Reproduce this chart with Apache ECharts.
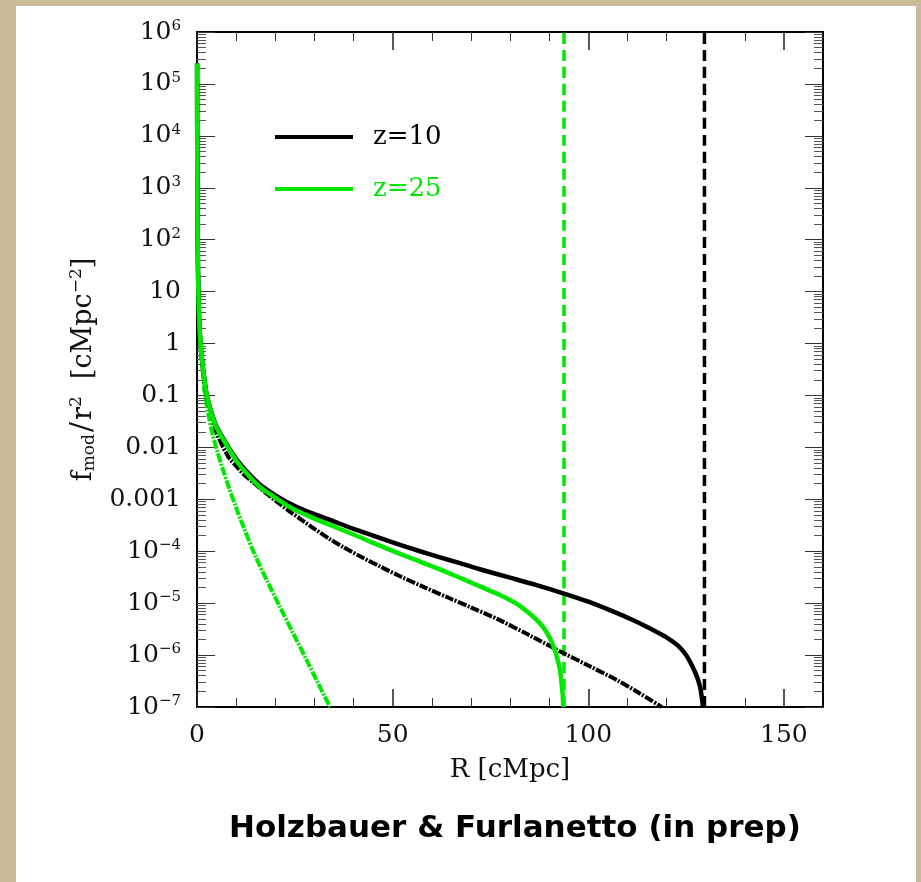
<!DOCTYPE html>
<html><head><meta charset="utf-8">
<script src="https://cdn.jsdelivr.net/npm/echarts@6/dist/echarts.min.js"></script>
<style>html,body{margin:0;padding:0;background:#c8bc98;}#c{width:921px;height:882px;}</style>
</head><body><div id="c"></div>
<script>
// ---- data ----
const rZ10  = [0.02,0.05,0.1,0.2,0.35,0.55,0.9,1.5,2.5,3.76,5,8,10,12.3,16,20.8,25,29.3,34,40,45,51.9,57,63,67.2,72.3,80,87,93.6,100,106,111.5,116,120,123,125,126.5,127.8,128.6,129.1,129.3];
const fZ10  = [2.5e5,1e4,1e3,60,10,3,1,0.35,0.1,0.045,0.025,0.0102,6.0e-3,3.7e-3,1.95e-3,1.1e-3,7.4e-4,5.4e-4,4e-4,2.7e-4,2.0e-4,1.32e-4,1.0e-4,7.3e-5,5.9e-5,4.5e-5,3.1e-5,2.2e-5,1.55e-5,1.07e-5,7.1e-6,4.7e-6,3.2e-6,2.2e-6,1.5e-6,1e-6,6.3e-7,3.8e-7,2.4e-7,1.4e-7,1e-7];
const rZ25  = [0.02,0.05,0.1,0.2,0.35,0.55,0.9,1.5,2.5,3.76,5,8,10,12.3,16,20.8,25,29.3,34,40,45,51.9,57,63,68,72.3,77,80,82.5,85,87,88.8,90.2,91.3,92.1,92.8,93.2,93.5,93.6];
const fZ25  = [2.5e5,1e4,1e3,60,10,3,1,0.35,0.1,0.044,0.024,0.0098,5.6e-3,3.4e-3,1.74e-3,9.8e-4,6.3e-4,4.5e-4,3.2e-4,2.1e-4,1.45e-4,8.9e-5,6.3e-5,4.2e-5,2.9e-5,2.1e-5,1.48e-5,1.15e-5,8.9e-6,6.3e-6,4.6e-6,3.2e-6,2.1e-6,1.35e-6,8.5e-7,5e-7,2.8e-7,1.6e-7,1e-7];
const rZ10b = [0.02,0.05,0.1,0.2,0.35,0.55,0.9,1.5,2.5,3.76,5,8,10,12,14.4,16.5,20,23.8,27,30,34,37.4,42.5,47,51.9,58,64.7,70,77.4,85,93.6,100,107.3,113,118.8];
const fZ10b = [2.5e5,1e4,1e3,60,10,3,1,0.35,0.1,0.042,0.019,6.6e-3,4.4e-3,3.0e-3,2.1e-3,1.55e-3,9.5e-4,5.75e-4,3.9e-4,2.7e-4,1.7e-4,1.2e-4,7.4e-5,5.0e-5,3.3e-5,2.04e-5,1.23e-5,8.3e-6,4.7e-6,2.4e-6,1.1e-6,6.3e-7,3.3e-7,1.86e-7,1e-7];
const rZ25b = [0.02,0.05,0.1,0.2,0.35,0.55,0.9,1.3,2,3,4,5,6.5,8,10,12,14.8,18,21,24.6,28,31,34];
const fZ25b = [2.5e5,1e4,1e3,60,10,3,1,0.4,0.112,0.04,0.0178,9.3e-3,4e-3,1.82e-3,6.9e-4,2.8e-4,8.5e-5,2.6e-5,9.1e-6,2.6e-6,8.1e-7,2.8e-7,1e-7];
const cutoffR = [129.7, 93.8];           // dashed vertical lines: z=10, z=25
const seriesNames = ['z=10', 'z=25'];
const xTickValues = [0, 50, 100, 150];
const xTickLabels = ['0', '50', '100', '150'];
const xMinorValues = [10,20,30,40,60,70,80,90,110,120,130,140];
const yTickValues = [1e-7,1e-6,1e-5,1e-4,1e-3,1e-2,0.1,1,10,1e2,1e3,1e4,1e5,1e6];
const yTickLabels = ['10^−7','10^−6','10^−5','10^−4','0.001','0.01','0.1','1','10','10^2','10^3','10^4','10^5','10^6'];
const xRange = [0, 160];

// ---- build ----
const GREEN = '#00e800';
const SERIF = 'DejaVu Serif';
const yMin = yTickValues[0], yMax = yTickValues[yTickValues.length - 1];
const yMinorValues = [];
for (let i = 0; i < yTickValues.length - 1; i++) {
  for (let m = 2; m <= 9; m++) yMinorValues.push(m * yTickValues[i]);
}
const zip = (a, b) => a.map((v, i) => [v, b[i]]);

function yLabel(v) {
  const lv = Math.log10(v);
  const i = yTickValues.findIndex(t => Math.abs(Math.log10(t) - lv) < 1e-6);
  if (i < 0) return '';
  const s = yTickLabels[i];
  if (s.indexOf('^') >= 0) {
    const p = s.split('^');
    return '{b|' + p[0] + '}{sup|' + p[1] + '}';
  }
  return '{b|' + s + '}';
}
const labelRich = {
  b: { fontFamily: SERIF, fontSize: 25, color: '#111', lineHeight: 27 },
  sup: { fontFamily: SERIF, fontSize: 15, color: '#111', verticalAlign: 'top', lineHeight: 16 }
};

function xAx(pos, major, labels) {
  return {
    type: 'value', position: pos, min: xRange[0], max: xRange[1],
    splitLine: { show: false },
    axisLine: { show: major, onZero: false, lineStyle: { color: '#000', width: 2 } },
    axisTick: { show: true, inside: true, length: major ? 18 : 9,
      customValues: major ? xTickValues : xMinorValues,
      lineStyle: { color: major ? '#222' : '#333', width: major ? 1.5 : 1 } },
    axisLabel: labels ? { show: true, customValues: xTickValues, margin: 16,
      formatter: v => xTickLabels[xTickValues.indexOf(v)] ?? '',
      fontFamily: SERIF, fontSize: 25, color: '#111' } : { show: false }
  };
}
function yAx(pos, major, labels) {
  return {
    type: 'log', logBase: 10, position: pos, min: yMin, max: yMax,
    splitLine: { show: false }, minorTick: { show: false },
    axisLine: { show: major, onZero: false, lineStyle: { color: '#000', width: 2 } },
    axisTick: { show: true, inside: true, length: major ? 18 : 9,
      customValues: major ? yTickValues : yMinorValues,
      lineStyle: { color: major ? '#333' : '#555', width: 1 } },
    axisLabel: labels ? { show: true, customValues: yTickValues, margin: 16,
      formatter: yLabel, rich: labelRich } : { show: false }
  };
}

const xAxes = [xAx('bottom', true, true), xAx('bottom', false, false), xAx('top', true, false), xAx('top', false, false)];
Object.assign(xAxes[0], {
  name: 'R [cMpc]', nameLocation: 'middle', nameGap: 50,
  nameTextStyle: { fontFamily: SERIF, fontSize: 26, color: '#111' }
});
const yAxes = [yAx('left', true, true), yAx('left', false, false), yAx('right', true, false), yAx('right', false, false)];
Object.assign(yAxes[0], {
  name: '{b|f}{sub|mod}{sl|/}{b|r}{sup|2}{b|  [cMpc}{sup|−2}{b|]}', nameLocation: 'middle', nameGap: 89,
  nameTextStyle: { fontFamily: SERIF, fontSize: 27, color: '#111',
    rich: {
      b: { fontFamily: SERIF, fontSize: 27, color: '#111', lineHeight: 30 },
      sl: { fontFamily: SERIF, fontSize: 30, color: '#111', lineHeight: 30, padding: [0, 2, 0, 2] },
      sub: { fontFamily: SERIF, fontSize: 17, color: '#111', verticalAlign: 'bottom', lineHeight: 16 },
      sup: { fontFamily: SERIF, fontSize: 17, color: '#111', verticalAlign: 'top', lineHeight: 16 }
    } }
});

function lineSeries(name, data, color, type, width, z) {
  return {
    name, type: 'line', data, xAxisIndex: 0, yAxisIndex: 0, symbol: 'none', clip: false,
    smooth: 0.3, z, animation: false,
    itemStyle: { color },
    lineStyle: { color, width, type, cap: 'butt', join: 'round' }
  };
}

const option = {
  animation: false,
  backgroundColor: '#c8bc98',
  graphic: [{ type: 'rect', z: -100, silent: true, shape: { x: 16, y: 6, width: 900, height: 876 }, style: { fill: '#ffffff' } }],
  title: {
    text: 'Holzbauer & Furlanetto (in prep)', left: 224, top: 808,
    textStyle: { fontFamily: 'DejaVu Sans', fontWeight: 'bold', fontSize: 31, color: '#000' }
  },
  grid: { left: 197, right: 98, top: 32, bottom: 175 },
  legend: {
    orient: 'vertical', left: 275, top: 124, padding: 0, itemWidth: 78, itemHeight: 4, itemGap: 26, icon: 'rect',
    data: [
      { name: seriesNames[0], textStyle: { color: '#000' } },
      { name: seriesNames[1], textStyle: { color: GREEN } }
    ],
    textStyle: { fontFamily: SERIF, fontSize: 26, padding: [0, 0, 0, 15] }
  },
  xAxis: xAxes,
  yAxis: yAxes,
  series: [
    lineSeries(seriesNames[0] + ' limit', [[cutoffR[0], yMin], [cutoffR[0], yMax]], '#000', [11, 6], 3.5, 2),
    lineSeries(seriesNames[1] + ' limit', [[cutoffR[1], yMin], [cutoffR[1], yMax]], GREEN, [11, 6], 3.5, 2),
    lineSeries(seriesNames[0] + ' alt', zip(rZ10b, fZ10b), '#000', [9, 1.5, 2, 1.5], 4, 3),
    lineSeries(seriesNames[1] + ' alt', zip(rZ25b, fZ25b), GREEN, [9, 1.5, 2, 1.5], 4, 3),
    lineSeries(seriesNames[0], zip(rZ10, fZ10), '#000', 'solid', 4.5, 4),
    lineSeries(seriesNames[1], zip(rZ25, fZ25), GREEN, 'solid', 4.5, 5)
  ]
};
const chart = echarts.init(document.getElementById('c'), null, { renderer: 'canvas' });
chart.setOption(option);
</script></body></html>
